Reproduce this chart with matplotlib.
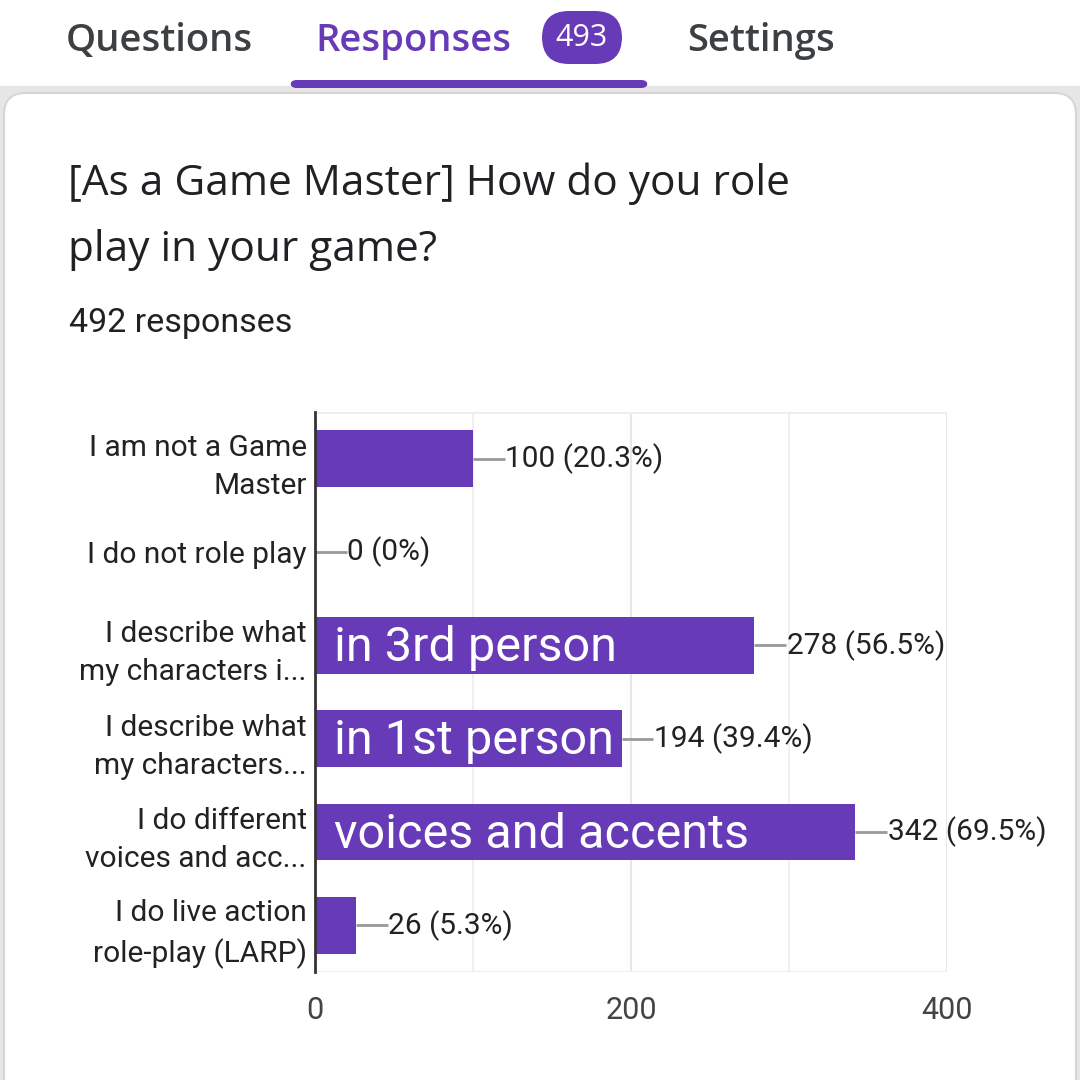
import matplotlib
matplotlib.use("Agg")
import matplotlib.pyplot as plt
from matplotlib.patches import FancyBboxPatch, Rectangle

categories = ["I am not a Game\nMaster", "I do not role play", "I describe what\nmy characters i...",
              "I describe what\nmy characters...", "I do different\nvoices and acc...", "I do live action\nrole-play (LARP)"]
counts = [100, 0, 278, 194, 342, 26]
percents = ["20.3%", "0%", "56.5%", "39.4%", "69.5%", "5.3%"]
overlays = ["", "", "in 3rd person", "in 1st person", "voices and accents", ""]
xticks = [0, 200, 400]
tabs = ["Questions", "Responses", "Settings"]
badge = "493"
title_lines = ["[As a Game Master] How do you role", "play in your game?"]
subtitle = "492 responses"

PURPLE = "#673ab7"
W = H = 1080
fig = plt.figure(figsize=(10.8, 10.8), dpi=100)

def fx(px): return px / W
def fy(py): return 1 - py / H

# background
fig.patches.append(Rectangle((0, 0), 1, fy(86), transform=fig.transFigure, color="#e6e6e6", zorder=0))
fig.patches.append(FancyBboxPatch((fx(4), fy(1100)), fx(1072), fy(93) - fy(1100),
                                  boxstyle="round,pad=0,rounding_size=0.02", transform=fig.transFigure,
                                  facecolor="white", edgecolor="#d6d6d6", lw=1.5, zorder=1))
# tab underline
fig.patches.append(FancyBboxPatch((fx(290), fy(88)), fx(358), fy(80) - fy(88),
                                  boxstyle="round,pad=0,rounding_size=0.006", transform=fig.transFigure,
                                  facecolor=PURPLE, edgecolor="none", zorder=2))
# tabs
tab_kw = dict(fontsize=27.5, family="Open Sans", fontweight="semibold", va="center", ha="left")
fig.text(fx(66), fy(41), tabs[0], color="#3c4043", **tab_kw)
fig.text(fx(315), fy(41), tabs[1], color=PURPLE, **tab_kw)
fig.text(fx(687), fy(41), tabs[2], color="#3c4043", **tab_kw)
fig.patches.append(FancyBboxPatch((fx(542), fy(64)), fx(80), fy(11) - fy(64),
                                  boxstyle="round,pad=0,rounding_size=0.025", transform=fig.transFigure,
                                  facecolor=PURPLE, edgecolor="none", zorder=2))
fig.text(fx(582), fy(38), badge, fontsize=22, color="white", family="Open Sans", va="center", ha="center", zorder=3)

# title
fig.text(fx(68), fy(184), title_lines[0], fontsize=30.5, color="#202124", family="Open Sans", va="center", ha="left")
fig.text(fx(68), fy(250), title_lines[1], fontsize=30.5, color="#202124", family="Open Sans", va="center", ha="left")
fig.text(fx(69), fy(323), subtitle, fontsize=24.5, color="#202124", family="Roboto", va="center", ha="left")

ax = fig.add_axes([fx(315), fy(972), fx(947) - fx(315), fy(412) - fy(972)])
ax.set_zorder(3)
ax.patch.set_alpha(0)
y = list(range(len(categories)))
ax.barh(y, counts, height=0.61, color=PURPLE, zorder=3)
ax.set_xlim(0, 400)
ax.set_ylim(len(categories) - 0.5, -0.5)
for v in [100, 300]:
    ax.axvline(v, color="#efefef", lw=1.5, zorder=1)
ax.axvline(200, color="#e6e6e6", lw=1.5, zorder=1)
ax.axvline(400, color="#e6e6e6", lw=2, zorder=1)
ax.axhline(-0.5, color="#ededed", lw=2, zorder=1)
ax.axhline(len(categories) - 0.5, color="#ededed", lw=2, zorder=1)
for s in ["top", "right", "bottom"]:
    ax.spines[s].set_visible(False)
ax.spines["left"].set_color("#333333")
ax.spines["left"].set_linewidth(2)
ax.spines["left"].set_zorder(5)
ax.set_yticks(y)
ax.set_yticklabels(categories, fontsize=21.5, color="#222222", family="Roboto", linespacing=1.45)
ax.tick_params(axis="y", length=0, pad=6)
ax.set_xticks(xticks)
ax.set_xticklabels([str(t) for t in xticks], fontsize=22, color="#444444", family="Roboto")
ax.tick_params(axis="x", length=0, pad=17)

for i, (c, p, o) in enumerate(zip(counts, percents, overlays)):
    ax.plot([c, c + 20], [i, i], color="#999999", lw=2, zorder=4, solid_capstyle="butt")
    ax.text(c + 20.5, i, f"{c} ({p})", fontsize=21.5, color="#222222", family="Roboto", va="center", ha="left", zorder=4)
    if o:
        ax.text(12, i + 0.03, o, fontsize=35, color="white", family="Roboto", va="center", ha="left", zorder=6)

fig.savefig("out.png", dpi=100)
